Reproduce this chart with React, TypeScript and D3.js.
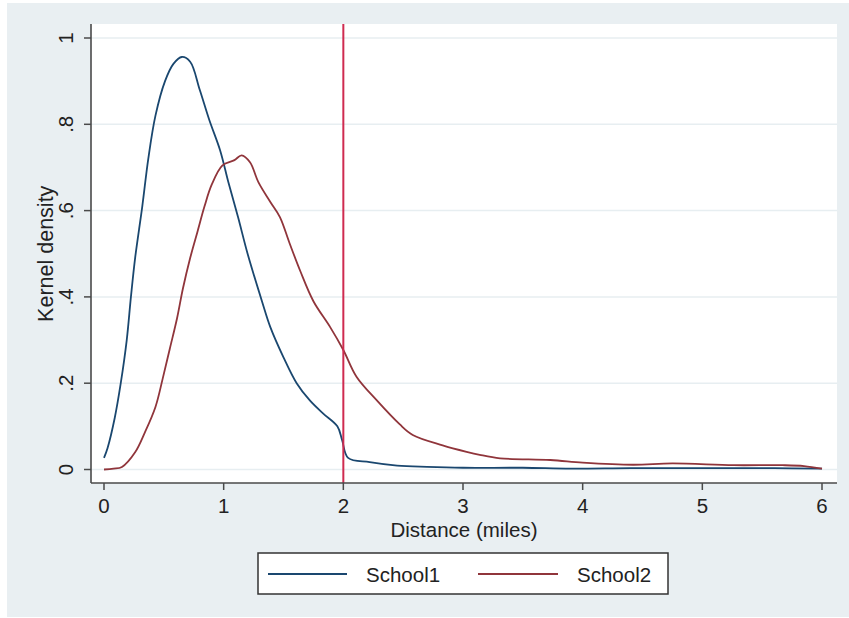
import React from "react";
import * as d3 from "d3";

// kernel density estimates
const school1Dist = [0, 0.03, 0.09, 0.14, 0.19, 0.225, 0.26, 0.32, 0.37, 0.43, 0.51, 0.58, 0.65, 0.72, 0.8, 0.88, 0.97, 1.04, 1.12, 1.2, 1.32, 1.39, 1.5, 1.61, 1.72, 1.83, 1.95, 1.99, 2.04, 2.22, 2.45, 2.7, 3.0, 3.5, 3.9, 4.4, 5.0, 5.6, 6.0];
const school1Dens = [0.027, 0.05, 0.12, 0.2, 0.3, 0.4, 0.49, 0.61, 0.72, 0.82, 0.9, 0.94, 0.956, 0.945, 0.88, 0.81, 0.74, 0.665, 0.585, 0.5, 0.39, 0.33, 0.26, 0.2, 0.16, 0.13, 0.1, 0.068, 0.027, 0.017, 0.009, 0.006, 0.004, 0.004, 0.002, 0.003, 0.003, 0.003, 0.002];

const school2Dist = [0, 0.08, 0.15, 0.26, 0.34, 0.43, 0.49, 0.55, 0.61, 0.66, 0.72, 0.78, 0.84, 0.9, 0.99, 1.09, 1.15, 1.22, 1.29, 1.39, 1.47, 1.55, 1.64, 1.75, 1.89, 2.0, 2.11, 2.28, 2.47, 2.58, 2.83, 3.03, 3.14, 3.31, 3.73, 4.0, 4.42, 4.75, 5.26, 5.67, 5.85, 6.0];
const school2Dens = [0, 0.002, 0.006, 0.04, 0.085, 0.145, 0.21, 0.28, 0.35, 0.42, 0.49, 0.55, 0.61, 0.66, 0.705, 0.717, 0.728, 0.712, 0.666, 0.62, 0.585, 0.525, 0.46, 0.39, 0.33, 0.277, 0.215, 0.16, 0.105, 0.08, 0.056, 0.041, 0.034, 0.026, 0.022, 0.016, 0.011, 0.014, 0.01, 0.01, 0.008, 0.002];

const xTicks = [0, 1, 2, 3, 4, 5, 6];
const yTicks = [0, 0.2, 0.4, 0.6, 0.8, 1];
const yTickLabels = ["0", ".2", ".4", ".6", ".8", "1"];
const cutoff = 2;
const seriesNames = ["School1", "School2"];

const BLUE = "#1a476f";
const RED = "#90353b";
const FONT = "'Liberation Sans', Arial, sans-serif";

export default function App() {
  const x = d3.scaleLinear().domain([0, 6]).range([104, 822]);
  const y = d3.scaleLinear().domain([0, 1]).range([469.5, 38]);

  const plot = { left: 91, right: 837, top: 24, bottom: 483 };

  const line = d3
    .line<number>()
    .curve(d3.curveCatmullRom.alpha(0.5));

  const path1 = line
    .x((d, i) => x(school1Dist[i]))
    .y((d) => y(d))(school1Dens);
  const path2 = line
    .x((d, i) => x(school2Dist[i]))
    .y((d) => y(d))(school2Dens);

  return (
    <svg
      width={849}
      height={618}
      style={{ position: "absolute", left: 0, top: 0 }}
      fontFamily={FONT}
    >
      <rect x={0} y={0} width={849} height={618} fill="#ffffff" />
      <rect x={7} y={3} width={842} height={614} fill="#e9eff2" />
      <rect
        x={plot.left}
        y={plot.top}
        width={plot.right - plot.left}
        height={plot.bottom - plot.top}
        fill="#ffffff"
      />

      {/* grid */}
      {yTicks.map((t) => (
        <line
          key={"g" + t}
          x1={plot.left}
          x2={plot.right}
          y1={y(t)}
          y2={y(t)}
          stroke="#e7eef1"
          strokeWidth={1.5}
        />
      ))}

      {/* density curves */}
      <path d={path1 || ""} fill="none" stroke={BLUE} strokeWidth={1.8} />
      <path d={path2 || ""} fill="none" stroke={RED} strokeWidth={1.8} />

      {/* cutoff line */}
      <line
        x1={x(cutoff)}
        x2={x(cutoff)}
        y1={plot.top}
        y2={plot.bottom}
        stroke="#cf2b50"
        strokeWidth={2}
      />

      {/* y axis */}
      <line x1={plot.left} x2={plot.left} y1={plot.top} y2={plot.bottom} stroke="#4a4a4a" strokeWidth={1.6} />
      {yTicks.map((t, i) => (
        <g key={"y" + t}>
          <line x1={plot.left - 7} x2={plot.left} y1={y(t)} y2={y(t)} stroke="#4a4a4a" strokeWidth={1.5} />
          <text
            transform={`translate(73,${y(t)}) rotate(-90)`}
            textAnchor="middle"
            fontSize={20.5}
            fill="#222"
          >
            {yTickLabels[i]}
          </text>
        </g>
      ))}
      <text
        transform={`translate(53,${y(0.5)}) rotate(-90)`}
        textAnchor="middle"
        fontSize={21.5}
        fill="#222"
      >
        Kernel density
      </text>

      {/* x axis */}
      <line x1={plot.left} x2={plot.right} y1={plot.bottom} y2={plot.bottom} stroke="#4a4a4a" strokeWidth={1.6} />
      {xTicks.map((t) => (
        <g key={"x" + t}>
          <line x1={x(t)} x2={x(t)} y1={plot.bottom} y2={plot.bottom + 7} stroke="#4a4a4a" strokeWidth={1.5} />
          <text x={x(t)} y={513} textAnchor="middle" fontSize={20.5} fill="#222">
            {t}
          </text>
        </g>
      ))}
      <text x={(plot.left + plot.right) / 2} y={537} textAnchor="middle" fontSize={20.5} fill="#222">
        Distance (miles)
      </text>

      {/* legend */}
      <rect x={258} y={553} width={410} height={41} fill="#ffffff" stroke="#333" strokeWidth={1.5} />
      <line x1={268} x2={347} y1={574} y2={574} stroke={BLUE} strokeWidth={1.8} />
      <text x={366} y={582} fontSize={20.5} fill="#222">
        {seriesNames[0]}
      </text>
      <line x1={478} x2={558} y1={574} y2={574} stroke={RED} strokeWidth={1.8} />
      <text x={577} y={582} fontSize={20.5} fill="#222">
        {seriesNames[1]}
      </text>
    </svg>
  );
}
